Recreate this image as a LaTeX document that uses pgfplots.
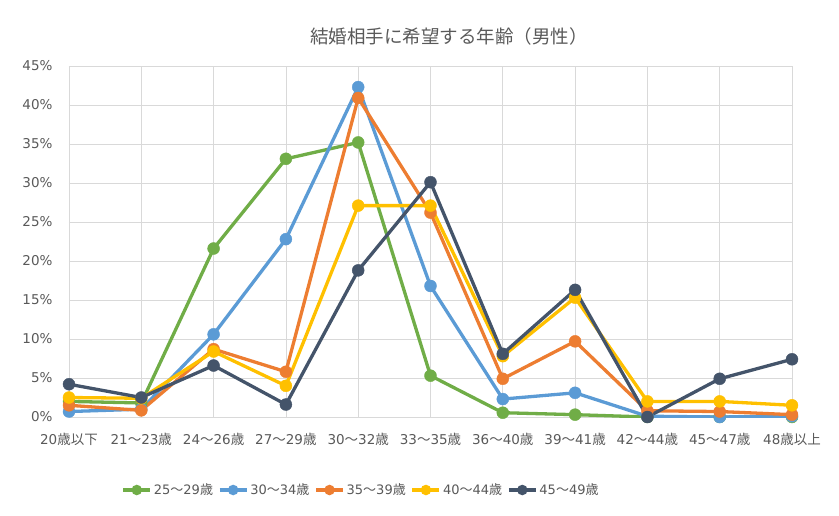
\documentclass[border=0pt]{standalone}
\usepackage{fontspec}
\setmainfont{DejaVu Sans}
\newfontfamily\jp{Noto Sans CJK JP}
\usepackage{pgfplots}
\usepackage{pgfplotstable}
\pgfplotsset{compat=1.18}
\definecolor{cgreen}{HTML}{70AD47}
\definecolor{cblue}{HTML}{5B9BD5}
\definecolor{corange}{HTML}{ED7D31}
\definecolor{cyellow}{HTML}{FFC000}
\definecolor{cdark}{HTML}{44546A}
\definecolor{txtgray}{HTML}{595959}
\definecolor{gridgray}{HTML}{D9D9D9}

\newcommand{\sai}{{\jp 歳}}
\newcommand{\kara}{{\jp ～}}

% share (%) by preferred partner age, per respondent age group
\pgfplotstableread{
x  g     b     o     y     d
0  2.0   0.7   1.5   2.5   4.2
1  1.8   1.0   0.85  2.4   2.5
2  21.6  10.6  8.7   8.4   6.6
3  33.1  22.8  5.8   4.0   1.6
4  35.2  42.3  40.9  27.1  18.8
5  5.3   16.8  26.2  27.1  30.1
6  0.55  2.3   4.9   7.8   8.1
7  0.3   3.1   9.7   15.3  16.3
8  0.0   0.1   0.8   2.0   0.0
9  0.0   0.0   0.7   2.0   4.9
10 0.0   0.1   0.3   1.5   7.4
}\agedata

\begin{document}
\begin{tikzpicture}
\useasboundingbox (-69pt,-98pt) rectangle (770pt,417pt);
\begin{axis}[
  at={(0pt,0pt)}, anchor=south west,
  scale only axis, width=723pt, height=351pt,
  xmin=0, xmax=10, ymin=0, ymax=45,
  xtick={0,...,10},
  xticklabels={20{\jp 歳以下},21\kara 23\sai,24\kara 26\sai,27\kara 29\sai,30\kara 32\sai,33\kara 35\sai,36\kara 40\sai,39\kara 41\sai,42\kara 44\sai,45\kara 47\sai,48{\jp 歳以上}},
  ytick={0,5,...,45},
  yticklabels={0\%,5\%,10\%,15\%,20\%,25\%,30\%,35\%,40\%,45\%},
  grid=major, grid style={gridgray, line width=0.75pt},
  axis line style={gridgray, line width=0.75pt},
  major tick length=0pt,
  tick label style={font=\fontsize{13.5}{16}\selectfont, text=txtgray},
  xticklabel style={yshift=-13pt},
  yticklabel style={xshift=-13pt},
  every axis plot/.append style={line width=3.3pt, mark=*, mark size=6pt,
    mark options={solid, line width=0.4pt}},
  legend style={at={(axis description cs:0.404,-0.208)}, anchor=center,
    draw=none, legend columns=5, font=\fontsize{13}{15}\selectfont,
    text=txtgray, inner sep=0pt,
    /tikz/every even column/.append style={column sep=3pt}},
  legend image code/.code={
    \draw[line width=3.3pt] (0pt,0pt) -- (27pt,0pt);
    \fill (13.5pt,0pt) circle (3.5pt);},
]
\addplot[cgreen]  table[x=x,y=g]{\agedata};
\addlegendentry{25\kara 29\sai}
\addplot[cblue]   table[x=x,y=b]{\agedata};
\addlegendentry{30\kara 34\sai}
\addplot[corange] table[x=x,y=o]{\agedata};
\addlegendentry{35\kara 39\sai}
\addplot[cyellow] table[x=x,y=y]{\agedata};
\addlegendentry{40\kara 44\sai}
\addplot[cdark]   table[x=x,y=d]{\agedata};
\addlegendentry{45\kara 49\sai}
\end{axis}
\node[font=\jp\fontsize{18.5}{22}\selectfont, text=txtgray] at (380pt,381pt)
  {結婚相手に希望する年齢（男性）};
\end{tikzpicture}
\end{document}
